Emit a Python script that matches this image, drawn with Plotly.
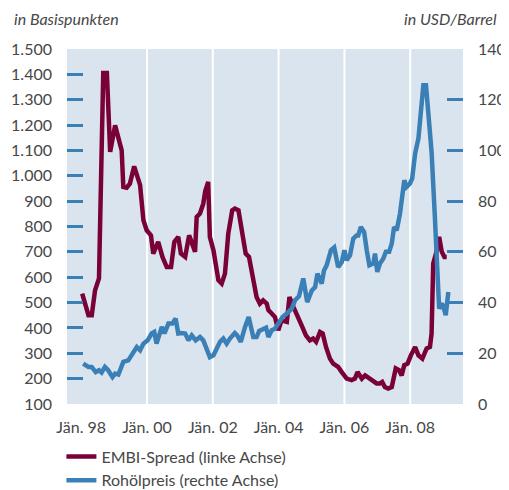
import plotly.graph_objects as go

# EMBI-Spread (Basispunkte), x in Jahren (Dezimal)
embi_t = [1998.03, 1998.22, 1998.32, 1998.42, 1998.54, 1998.67, 1998.78, 1998.88, 1999.03, 1999.13,
          1999.23, 1999.28, 1999.38, 1999.48, 1999.61, 1999.79, 1999.89, 1999.99, 2000.12, 2000.19,
          2000.34, 2000.47, 2000.60, 2000.73, 2000.83, 2000.95, 2001.03, 2001.16, 2001.28, 2001.46,
          2001.51, 2001.61, 2001.71, 2001.77, 2001.86, 2001.91, 2002.02, 2002.17, 2002.27, 2002.37,
          2002.47, 2002.59, 2002.67, 2002.78, 2002.88, 2003.00, 2003.10, 2003.21, 2003.33, 2003.43,
          2003.53, 2003.64, 2003.69, 2003.79, 2003.89, 2003.99, 2004.09, 2004.25, 2004.33, 2004.45,
          2004.60, 2004.70, 2004.83, 2004.95, 2005.05, 2005.14, 2005.26, 2005.34, 2005.44, 2005.48,
          2005.56, 2005.66, 2005.81, 2005.92, 2006.07, 2006.22, 2006.32, 2006.40, 2006.53, 2006.63,
          2006.78, 2006.88, 2006.98, 2007.08, 2007.15, 2007.23, 2007.33, 2007.44, 2007.56, 2007.66,
          2007.74, 2007.82, 2007.92, 2008.02, 2008.15, 2008.25, 2008.37, 2008.50, 2008.60, 2008.65,
          2008.70, 2008.81, 2008.88, 2008.96, 2009.04, 2009.11]
embi_v = [535, 450, 450, 548, 595, 1405, 1405, 1094, 1199, 1140,
          1100, 956, 953, 969, 1037, 963, 825, 785, 765, 693,
          739, 680, 640, 640, 739, 759, 693, 680, 765, 700,
          838, 851, 890, 940, 976, 759, 706, 588, 575, 614,
          772, 864, 871, 864, 772, 693, 680, 601, 522, 496,
          509, 496, 470, 457, 443, 391, 430, 424, 522, 483,
          443, 410, 371, 351, 358, 345, 384, 378, 325, 305,
          279, 259, 246, 226, 200, 194, 200, 226, 200, 213,
          200, 194, 181, 181, 187, 167, 161, 167, 240, 233,
          213, 253, 259, 292, 325, 292, 279, 319, 325, 378,
          654, 706, 759, 700, 680, 680]

# Rohölpreis (USD/Barrel)
oil_t = [1998.06, 1998.22, 1998.32, 1998.44, 1998.54, 1998.62, 1998.72, 1998.82, 1998.95, 1999.03,
         1999.13, 1999.28, 1999.43, 1999.55, 1999.69, 1999.79, 1999.89, 2000.02, 2000.14, 2000.22,
         2000.29, 2000.45, 2000.53, 2000.65, 2000.77, 2000.87, 2000.95, 2001.05, 2001.16, 2001.26,
         2001.36, 2001.48, 2001.61, 2001.71, 2001.81, 2001.91, 2002.02, 2002.12, 2002.22, 2002.32,
         2002.42, 2002.52, 2002.67, 2002.74, 2002.85, 2002.98, 2003.09, 2003.23, 2003.33, 2003.41,
         2003.53, 2003.62, 2003.69, 2003.79, 2003.89, 2003.99, 2004.12, 2004.25, 2004.40, 2004.50,
         2004.62, 2004.75, 2004.87, 2005.01, 2005.11, 2005.18, 2005.31, 2005.38, 2005.46, 2005.59,
         2005.69, 2005.81, 2005.92, 2006.00, 2006.07, 2006.17, 2006.27, 2006.37, 2006.42, 2006.50,
         2006.60, 2006.68, 2006.76, 2006.88, 2006.93, 2007.00, 2007.08, 2007.18, 2007.26, 2007.36,
         2007.44, 2007.51, 2007.59, 2007.69, 2007.82, 2007.89, 2007.99, 2008.06, 2008.15, 2008.25,
         2008.33, 2008.40, 2008.48, 2008.65, 2008.75, 2008.82, 2008.88, 2008.96, 2009.01, 2009.08,
         2009.16]
oil_v = [15.9, 14.6, 14.6, 12.6, 13.3, 12.4, 14.6, 13.3, 10.6, 12.0,
         11.6, 16.6, 17.2, 19.9, 22.5, 21.2, 23.8, 25.1, 27.8, 28.4,
         23.8, 30.4, 27.8, 31.7, 31.7, 33.7, 27.8, 28.0, 27.8, 25.1,
         27.1, 25.1, 26.4, 25.1, 21.2, 18.5, 19.2, 21.8, 24.5, 25.8,
         23.8, 25.8, 28.0, 27.1, 24.5, 30.4, 34.3, 26.4, 26.4, 28.8,
         29.3, 30.1, 26.4, 29.1, 29.7, 31.9, 34.3, 35.7, 37.6, 40.9,
         42.5, 49.5, 40.2, 44.8, 46.1, 51.4, 47.5, 52.7, 54.7, 60.6,
         61.7, 54.0, 56.0, 60.6, 56.7, 58.6, 65.2, 66.5, 66.5, 69.8,
         67.8, 60.6, 54.7, 55.4, 59.3, 52.1, 55.4, 57.3, 60.0, 60.0,
         63.3, 69.8, 68.5, 75.1, 88.2, 85.6, 86.9, 88.9, 98.8, 104.7,
         118.5, 125.7, 125.7, 99.4, 73.8, 50.1, 37.6, 39.6, 38.3, 35.0,
         44.2]

xtick_vals = [1998, 2000, 2002, 2004, 2006, 2008]
xtick_text = ["Jän. 98", "Jän. 00", "Jän. 02", "Jän. 04", "Jän. 06", "Jän. 08"]
grid_years = [2000, 2002, 2004, 2006, 2008]

MAROON = "#7A0038"
BLUE = "#3A80B6"
TXT = "#474747"
FONT = "Lato"

fig = go.Figure()
fig.add_trace(go.Scatter(x=embi_t, y=embi_v, mode="lines", name="EMBI-Spread (linke Achse)",
                         line=dict(color=MAROON, width=4.5), yaxis="y"))
fig.add_trace(go.Scatter(x=oil_t, y=oil_v, mode="lines", name="Rohölpreis (rechte Achse)",
                         line=dict(color=BLUE, width=4.5), yaxis="y2"))

for g in grid_years:
    fig.add_shape(type="line", xref="x", yref="paper", x0=g, x1=g, y0=0, y1=1,
                  line=dict(color="white", width=2), layer="below")

# the page body adds an 8px margin, so the figure is 8px smaller than the window
fig.update_layout(
    width=501, height=482,
    margin=dict(l=59, r=46, t=41, b=86, autoexpand=False),
    paper_bgcolor="white", plot_bgcolor="#DAE4EF",
    separators=",.",
    font=dict(family=FONT, size=15, color=TXT),
    showlegend=True,
    legend=dict(xref="container", yref="container", x=0.1066, y=0.1048,
                xanchor="left", yanchor="top", orientation="h",
                entrywidth=1, entrywidthmode="fraction",
                font=dict(size=16, color=TXT), bgcolor="rgba(0,0,0,0)",
                itemwidth=30),
    xaxis=dict(range=[1997.568, 2009.605], tickvals=xtick_vals, ticktext=xtick_text,
               showgrid=False, zeroline=False, showline=False, ticks="", automargin=False,
               ticklabelstandoff=12, tickfont=dict(size=16, color=TXT)),
    yaxis=dict(range=[100, 1500], dtick=100, tick0=100, tickformat=",d", showgrid=False,
               zeroline=False, showline=False, ticks="inside", ticklen=16, tickwidth=2.5,
               automargin=False,
               tickcolor=BLUE, ticklabelstandoff=14, tickfont=dict(size=16, color=TXT)),
    yaxis2=dict(range=[0, 140], dtick=20, overlaying="y", side="right", showgrid=False,
                zeroline=False, showline=False, ticks="inside", ticklen=16, tickwidth=2.5,
                automargin=False,
                tickcolor=BLUE, ticklabelstandoff=14, tickfont=dict(size=16, color=TXT)),
    annotations=[
        dict(text="<i>in Basispunkten</i>", xref="paper", yref="paper", x=-0.138, y=1.085,
             xanchor="left", yanchor="middle", showarrow=False, font=dict(size=16, color=TXT)),
        dict(text="<i>in USD/Barrel</i>", xref="paper", yref="paper", x=1.09, y=1.085,
             xanchor="right", yanchor="middle", showarrow=False, font=dict(size=16, color=TXT)),
    ],
)

fig.write_html("out.html")
